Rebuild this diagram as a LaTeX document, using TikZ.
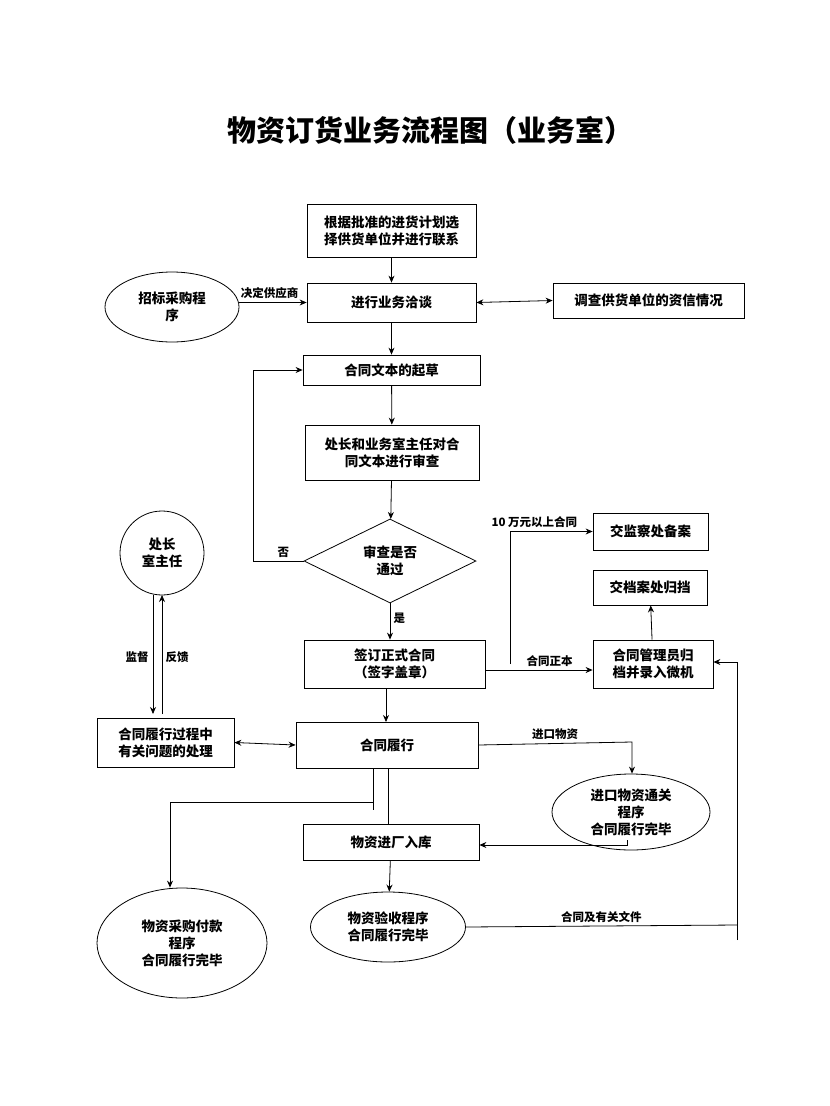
\documentclass[tikz,border=0pt]{standalone}
\usepackage{fontspec}
\setmainfont{Noto Sans CJK SC}
\usetikzlibrary{shapes.geometric,arrows.meta}
\tikzset{
  box/.style={draw,line width=0.8pt,minimum width=#1,align=center,inner sep=2pt},
  oval/.style={draw,ellipse,line width=0.8pt,align=center,inner sep=0pt},
  lbl/.style={font=\fontsize{11.5}{13}\selectfont\bfseries},
}
\begin{document}
\begin{tikzpicture}[x=1pt,y=-1pt,>={Stealth[length=7pt,width=6pt]},line width=0.8pt,
  font=\fontsize{13.5}{17}\selectfont\bfseries]
\useasboundingbox (0,0) rectangle (830,1106);
\node[font=\fontsize{29}{32}\selectfont\bfseries] at (430,130) {物资订货业务流程图（业务室）};
% upper column
\node[box=169pt,minimum height=53pt] (plan) at (391.5,230.5) {根据批准的进货计划选\\择供货单位并进行联系};
\node[box=169pt,minimum height=39pt] (talk) at (391.5,302.5) {进行业务洽谈};
\node[oval,minimum width=134pt,minimum height=70pt] (bid) at (172,307) {招标采购程\\序};
\node[box=191pt,minimum height=35pt] (check) at (648.5,300.5) {调查供货单位的资信情况};
\node[box=177pt,minimum height=30pt] (draft) at (391.5,370) {合同文本的起草};
\node[box=174pt,minimum height=55pt] (review) at (392,452.5) {处长和业务室主任对合\\同文本进行审查};
\node[draw,diamond,aspect=2.05,minimum width=172pt,minimum height=84pt,inner sep=0pt,align=center] (pass) at (390,561) {审查是否\\通过};
\node[box=181pt,minimum height=48pt] (sign) at (394.5,664) {签订正式合同\\（签字盖章）};
% right column
\node[box=115pt,minimum height=37pt] (audit) at (650.5,531.5) {交监察处备案};
\node[box=114pt,minimum height=35pt] (archive) at (650,587.5) {交档案处归挡};
\node[box=120pt,minimum height=48pt] (admin) at (653,664) {合同管理员归\\档并录入微机};
% left
\node[draw,circle,minimum size=84pt,align=center,inner sep=0pt] (chief) at (162,553) {处长\\室主任};
\node[box=137pt,minimum height=49pt] (issue) at (165.5,742.5) {合同履行过程中\\有关问题的处理};
% lower
\node[box=182pt,minimum height=46pt] (perform) at (387,745) {合同履行};
\node[oval,minimum width=158pt,minimum height=76pt] (import) at (631,812) {进口物资通关\\程序\\合同履行完毕};
\node[box=176pt,minimum height=36pt] (store) at (391,842) {物资进厂入库};
\node[oval,minimum width=170pt,minimum height=110pt] (pay) at (182,943) {物资采购付款\\程序\\合同履行完毕};
\node[oval,minimum width=155pt,minimum height=70pt] (accept) at (388,927) {物资验收程序\\合同履行完毕};

\draw[->] (plan) -- (talk);
\draw[->] (bid.east |- talk.west) -- node[above,lbl,pos=0.45] {决定供应商} (talk.west);
\draw[<->] (talk.east) -- (check.west);
\draw[->] (talk) -- (draft);
\draw[->] (draft) -- (review);
\draw[->] (review) -- (pass);
\coordinate (back) at (253,561);
\draw[->] (pass.west) -- node[above,lbl,pos=0.4] {否} (back) |- (draft.west);
\draw[->] (pass.south) -- node[right,lbl,pos=0.4] {是} (sign.north -| pass.south);
\draw[->] (sign.east |- 0,670) -- node[above,lbl,pos=0.6] {合同正本} (admin.west |- 0,670);
\coordinate (big) at (510,664);
\draw[->] (big) |- node[above,lbl,pos=0.72,xshift=-12pt] {10 万元以上合同} (audit.west);
\draw[->] (admin) -- (archive);
\draw[->] (153,595) -- (153,714);
\draw[->] (162,714) -- (162,595);
\node[lbl] at (137,657) {监督};
\node[lbl] at (177,657) {反馈};
\draw[->] (sign.south -| perform.north) ++(-1,0) -- (386,722);
\draw[<->] (issue.east) -- (perform.west);
\draw[->] (perform.east) -- node[above,lbl] {进口物资} (632,742) -- (import.north -| 632,0);
\draw[->] (627,840) -- (627,845) -- (store.east |- 0,845);
\draw (388,768) -- (store.north -| 388,0);
\draw (373,768) -- (373,810);
\draw[->] (373,802) -- (170,802) -- (pay.north -| 170,0);
\draw[->] (store) -- (accept);
\coordinate (side) at (737,925);
\draw (accept.east) -- node[above,lbl] {合同及有关文件} (side);
\draw[->] (737,940) -- (737,662) -- (admin.east |- 0,662);
\end{tikzpicture}
\end{document}
